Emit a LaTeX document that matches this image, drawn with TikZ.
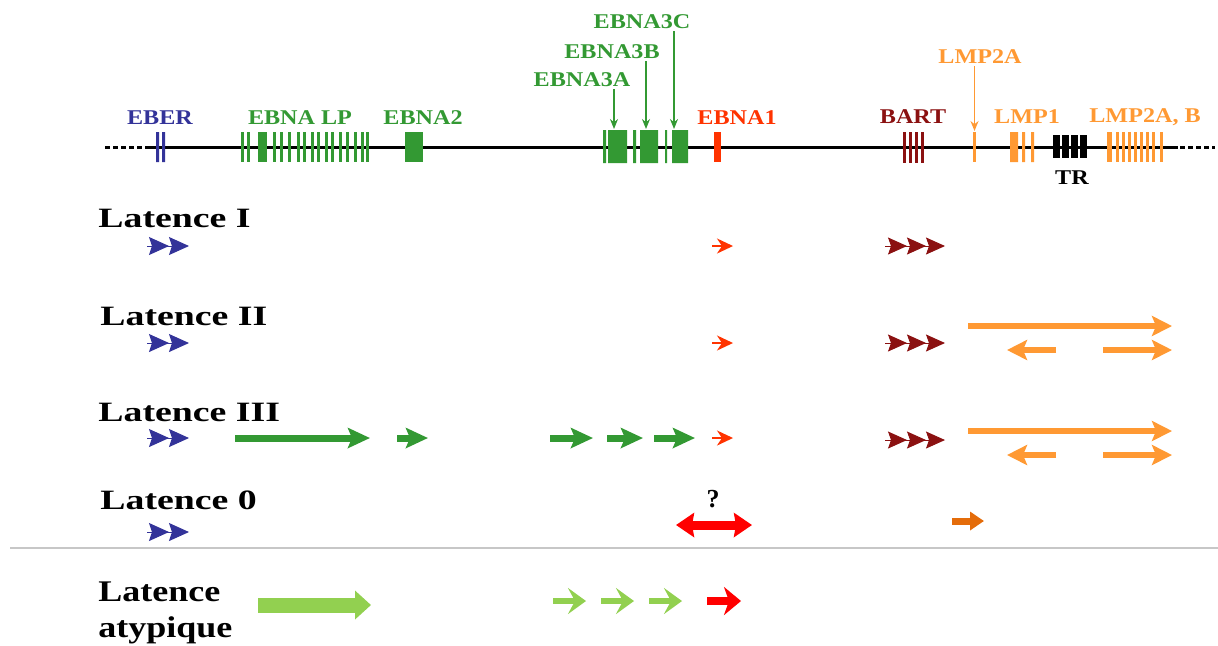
\documentclass[tikz,border=0pt]{standalone}
\usepackage{fontspec}
\setmainfont{Liberation Serif}
\usepackage{graphicx}
\usetikzlibrary{arrows.meta}

\definecolor{eberblue}{HTML}{333399}
\definecolor{ebnagreen}{HTML}{339933}
\definecolor{ebnared}{HTML}{FF3300}
\definecolor{bartred}{HTML}{8B1111}
\definecolor{lmporange}{HTML}{FF9933}
\definecolor{zeroorange}{HTML}{E46C0A}
\definecolor{lightgreen}{HTML}{92D050}
\definecolor{atyred}{HTML}{FF0000}

\newcommand\genefont{\fontsize{10.5}{12}\selectfont\bfseries}
\newcommand\rowfont{\fontsize{14}{16}\selectfont\bfseries}
\newcommand\gw[1]{\scalebox{1.15}[1]{#1}}
\newcommand\rw[1]{\scalebox{1.35}[1]{#1}}

\begin{document}
\begin{tikzpicture}[x=0.5pt,y=-0.5pt,
  gene/.style={font=\genefont,inner sep=1pt},
  row/.style={font=\rowfont,anchor=west,inner sep=0pt},
  pointer/.style={-{Stealth[length=5pt,width=4pt]},line width=0.7pt},
  eberrun/.style={eberblue,line width=0.5pt,
    -{Stealth[length=10pt,width=9pt,inset=1.5pt] Stealth[length=10pt,width=9pt,inset=1.5pt]}},
  ebna1run/.style={ebnared,line width=1pt,-{Stealth[length=8pt,width=7.5pt,inset=2.5pt]}},
  bartrun/.style={bartred,line width=0.5pt,
    -{Stealth[length=9.5pt,width=8.5pt,inset=1.5pt] Stealth[length=9.5pt,width=8.5pt,inset=1.5pt] Stealth[length=9.5pt,width=8.5pt,inset=1.5pt]}},
  lmprun/.style={lmporange,line width=3pt,-{Stealth[length=10pt,width=10pt,inset=2pt]}},
  ebnarun/.style={ebnagreen,line width=3.5pt,-{Stealth[length=11pt,width=10pt,inset=2pt]}},
  zerorun/.style={atyred,line width=4.5pt,
    {Stealth[length=9pt,width=12pt,inset=1pt]}-{Stealth[length=9pt,width=12pt,inset=1pt]}},
  bigrun/.style={lightgreen,line width=7.5pt,-{Triangle[length=8pt,width=14pt]}},
  chevron/.style={line width=3pt,-{Stealth[length=9pt,width=13pt,inset=3.5pt]}},
  redchevron/.style={line width=4pt,-{Stealth[length=8.5pt,width=14pt,inset=2.5pt]}}]

\useasboundingbox (0,0) rectangle (1218,645);

% genome line
\draw[line width=1.5pt](150,147)--(1178,147);
\draw[line width=1.5pt,dash pattern=on 2.5pt off 1.5pt](105,147)--(150,147);
\draw[line width=1.5pt,dash pattern=on 2.5pt off 1.5pt](1180,147)--(1215,147);

% genes
\fill[eberblue](156,132)rectangle(159,162) (162,132)rectangle(165,162);
\foreach \x in {241,247,273,280,288,297,303,311,317,325,331,339,346,354,361,366}
  \fill[ebnagreen](\x,132)rectangle ++(3,30);
\fill[ebnagreen](258,132)rectangle(267,162);
\fill[ebnagreen](405,132)rectangle(423,162);
\fill[ebnagreen](603,130)rectangle(606,163) (608,130)rectangle(627,163)
  (633,130)rectangle(636,163) (640,130)rectangle(658,163)
  (665,130)rectangle(667,163) (672,130)rectangle(688,163);
\fill[ebnared](714,132)rectangle(721,162);
\foreach \x in {903,909,915,921}
  \fill[bartred](\x,132)rectangle ++(3,31);
\fill[lmporange](973,132)rectangle(976,162);
\fill[lmporange](1010,132)rectangle(1018,162) (1022,132)rectangle(1025,162)
  (1031,132)rectangle(1034,162);
\foreach \x in {1053,1062,1071,1080}
  \fill[black](\x,135)rectangle ++(7,23);
\fill[lmporange](1107,132)rectangle(1112,162);
\foreach \x in {1116,1122,1128,1134,1140,1146,1152,1160}
  \fill[lmporange](\x,132)rectangle ++(3,30);

% gene labels
\node[gene,text=eberblue](eber) at (160,118){\gw{EBER}};
\node[gene,text=ebnagreen](ebnalp) at (300,118){\gw{EBNA LP}};
\node[gene,text=ebnagreen](ebna2) at (423,118){\gw{EBNA2}};
\node[gene,text=ebnagreen](ebna3a) at (582,80){\gw{EBNA3A}};
\node[gene,text=ebnagreen](ebna3b) at (612,52){\gw{EBNA3B}};
\node[gene,text=ebnagreen](ebna3c) at (642,22){\gw{EBNA3C}};
\node[gene,text=ebnared](ebna1) at (737,118){\gw{EBNA1}};
\node[gene,text=bartred](bart) at (913,117){\gw{BART}};
\node[gene,text=lmporange](lmp2a) at (980,57){\gw{LMP2A}};
\node[gene,text=lmporange](lmp1) at (1027,117){\gw{LMP1}};
\node[gene,text=lmporange](lmp2ab) at (1145,117){\gw{LMP2A, B}};
\node[gene](tr) at (1072,178){\gw{TR}};

\coordinate(g3a) at (614,129);
\coordinate(g3b) at (646,129);
\coordinate(g3c) at (674,129);
\coordinate(g2a) at (974.5,131);
\draw[pointer,ebnagreen](ebna3a.south -| g3a)--(g3a);
\draw[pointer,ebnagreen](ebna3b.south -| g3b)--(g3b);
\draw[pointer,ebnagreen](ebna3c.south -| g3c)--(g3c);
\draw[pointer,lmporange](lmp2a.south -| g2a)--(g2a);

% latency programs
\node[row](lat1) at (98,218){\rw{Latence I}};
\node[row](lat2) at (100,316){\rw{Latence II}};
\node[row](lat3) at (98,412){\rw{Latence III}};
\node[row](lat0) at (100,500){\rw{Latence 0}};
\node[font=\fontsize{15}{18}\selectfont\bfseries,anchor=west,align=left,inner sep=0pt](latat)
  at (98,613){\scalebox{1.2}[1]{Latence}\\\scalebox{1.2}[1]{atypique}};

% Latence I
\draw[eberrun](147,246)--(189,246);
\draw[ebna1run](712,246)--(733,246);
\draw[bartrun](885,246)--(945,246);

% Latence II
\draw[eberrun](147,343)--(189,343);
\draw[ebna1run](712,343)--(733,343);
\draw[bartrun](885,343)--(945,343);
\draw[lmprun](968,326)--(1172,326);
\draw[lmprun](1056,350)--(1007,350);
\draw[lmprun](1103,350)--(1172,350);

% Latence III
\draw[eberrun](147,438)--(189,438);
\draw[ebnarun](235,438)--(370,438);
\draw[ebnarun](397,438)--(428,438);
\draw[ebnarun](550,438)--(593,438);
\draw[ebnarun](607,438)--(643,438);
\draw[ebnarun](654,438)--(695,438);
\draw[ebna1run](712,438)--(733,438);
\draw[bartrun](885,440)--(945,440);
\draw[lmprun](968,431)--(1172,431);
\draw[lmprun](1056,455)--(1007,455);
\draw[lmprun](1103,455)--(1172,455);

% Latence 0
\draw[eberrun](147,532)--(189,532);
\draw[zerorun](676,525)--(752,525);
\node[font=\fontsize{13}{14}\selectfont\bfseries](qm) at (713,499){?};
\draw[zeroorange,line width=3.5pt,-{Triangle[length=7pt,width=9pt]}](952,521)--(984,521);

\draw[black!22,line width=0.6pt](10,548)--(1218,548);

% Latence atypique
\draw[bigrun](258,605)--(371,605);
\draw[chevron,lightgreen](553,601)--(586,601);
\draw[chevron,lightgreen](601,601)--(634,601);
\draw[chevron,lightgreen](649,601)--(682,601);
\draw[redchevron,atyred](707,601)--(741,601);

\end{tikzpicture}
\end{document}
